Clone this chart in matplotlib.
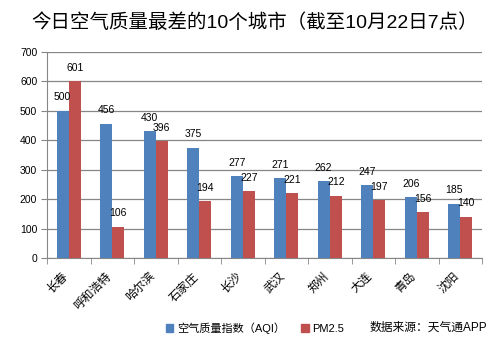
import matplotlib
matplotlib.use('Agg')
import matplotlib.pyplot as plt
import numpy as np
from matplotlib.patches import Patch
from matplotlib.transforms import ScaledTranslation

plt.rcParams['font.family'] = ['Liberation Sans', 'Noto Sans CJK SC', 'DejaVu Sans']

# 城市与两组数值
cities = ['长春', '呼和浩特', '哈尔滨', '石家庄', '长沙', '武汉', '郑州', '大连', '青岛', '沈阳']
aqi = [500, 456, 430, 375, 277, 271, 262, 247, 206, 185]
pm25 = [601, 106, 396, 194, 227, 221, 212, 197, 156, 140]
y_ticks = [0, 100, 200, 300, 400, 500, 600, 700]

blue = '#4F81BD'
red = '#C0504D'
grey = '#868686'

fig = plt.figure(figsize=(5, 3.44), dpi=100)
ax = fig.add_axes([0.094, 0.25, 0.870, 0.599])

x = np.arange(len(cities))
w = 0.28
b1 = ax.bar(x - w / 2, aqi, w, color=blue, zorder=3)
b2 = ax.bar(x + w / 2, pm25, w, color=red, zorder=3)

for bars, vals in ((b1, aqi), (b2, pm25)):
    for r, v in zip(bars, vals):
        ax.annotate(str(v), (r.get_x() + r.get_width() / 2, v), xytext=(0, 6),
                    textcoords='offset points', ha='center', va='bottom',
                    fontsize=7.5, zorder=4)

ax.set_xlim(-0.5, len(cities) - 0.5)
ax.set_ylim(0, 700)
ax.set_yticks(y_ticks)
ax.set_yticklabels([str(t) for t in y_ticks], fontsize=7.5)
ax.yaxis.grid(True, color=grey, linewidth=0.9, zorder=0)

ax.set_xticks(x)
ax.set_xticklabels(cities, rotation=45, ha='right', rotation_mode='anchor', fontsize=8.5)
ax.tick_params(axis='x', length=0, pad=9)
# 标签略向左移
shift = ScaledTranslation(-5 / 72, 0, fig.dpi_scale_trans)
for lab in ax.get_xticklabels():
    lab.set_transform(lab.get_transform() + shift)
ax.set_xticks(np.arange(-0.5, len(cities)), minor=True)
ax.tick_params(axis='x', which='minor', length=4, color=grey, direction='out')
ax.tick_params(axis='y', length=4, color=grey, direction='out', pad=3)

for s in ('top', 'right'):
    ax.spines[s].set_visible(False)
ax.spines['left'].set_color(grey)
ax.spines['bottom'].set_color(grey)

fig.text(0.51, 0.935, '今日空气质量最差的10个城市（截至10月22日7点）', ha='center', va='center',
         fontsize=14)

handles = [Patch(color=blue, label='空气质量指数（AQI）'), Patch(color=red, label='PM2.5')]
fig.legend(handles=handles, loc='center', bbox_to_anchor=(0.51, 0.047), ncol=2,
           frameon=False, fontsize=8, handlelength=0.7, handleheight=0.7,
           handletextpad=0.3, columnspacing=1.5)
fig.text(0.975, 0.047, '数据来源：天气通APP', ha='right', va='center', fontsize=8.5,
         fontweight='medium')

fig.savefig('out.png', dpi=100)
